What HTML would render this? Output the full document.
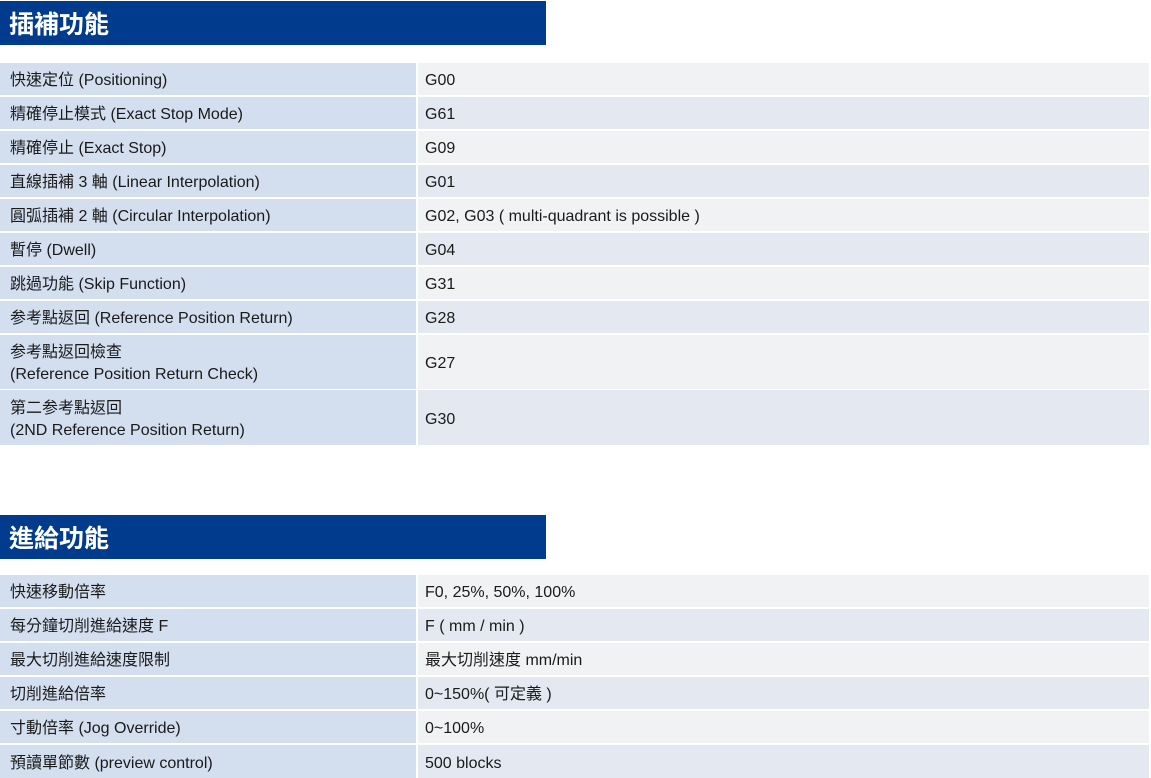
<!DOCTYPE html>
<html><head><meta charset="utf-8"><style>
body{margin:0;width:1151px;height:777px;background:#fff;overflow:hidden;position:relative;font-family:"Liberation Sans","Noto Sans CJK TC",sans-serif;color:#1a1a1a}
.h{position:absolute;left:0;width:546px;height:44px;background:#003b8e;color:#fff;font-size:25px;font-weight:bold;line-height:44px;padding-left:9px;box-sizing:border-box;font-family:"Noto Sans CJK TC",sans-serif}
.r{position:absolute;left:0;width:1149px;display:flex;font-size:16px;line-height:22px}
.l{width:416px;background:#d3deef;padding-left:10px;padding-top:4px;box-sizing:border-box;display:flex;align-items:center}
.v{flex:1;margin-left:2px;padding-left:7px;padding-top:4px;box-sizing:border-box;display:flex;align-items:center;background:#f1f2f4}
.l span,.v span{display:block;line-height:22px}
.d .v{background:#e3e8f1}
</style></head><body>
<div class="h" style="top:1px">插補功能</div>
<div class="r" style="top:63px;height:32px"><div class="l"><span>快速定位 (Positioning)</span></div><div class="v"><span>G00</span></div></div>
<div class="r d" style="top:97px;height:32px"><div class="l"><span>精確停止模式 (Exact Stop Mode)</span></div><div class="v"><span>G61</span></div></div>
<div class="r" style="top:131px;height:32px"><div class="l"><span>精確停止 (Exact Stop)</span></div><div class="v"><span>G09</span></div></div>
<div class="r d" style="top:165px;height:32px"><div class="l"><span>直線插補 3 軸 (Linear Interpolation)</span></div><div class="v"><span>G01</span></div></div>
<div class="r" style="top:199px;height:32px"><div class="l"><span>圓弧插補 2 軸 (Circular Interpolation)</span></div><div class="v"><span>G02, G03 ( multi-quadrant is possible )</span></div></div>
<div class="r d" style="top:233px;height:32px"><div class="l"><span>暫停 (Dwell)</span></div><div class="v"><span>G04</span></div></div>
<div class="r" style="top:267px;height:32px"><div class="l"><span>跳過功能 (Skip Function)</span></div><div class="v"><span>G31</span></div></div>
<div class="r d" style="top:301px;height:32px"><div class="l"><span>参考點返回 (Reference Position Return)</span></div><div class="v"><span>G28</span></div></div>
<div class="r" style="top:335px;height:54px"><div class="l"><span>参考點返回檢查<br>(Reference Position Return Check)</span></div><div class="v"><span>G27</span></div></div>
<div class="r d" style="top:390px;height:55px"><div class="l"><span>第二参考點返回<br>(2ND Reference Position Return)</span></div><div class="v"><span>G30</span></div></div>
<div class="h" style="top:515px">進給功能</div>
<div class="r" style="top:575px;height:32px"><div class="l"><span>快速移動倍率</span></div><div class="v"><span>F0, 25%, 50%, 100%</span></div></div>
<div class="r d" style="top:609px;height:32px"><div class="l"><span>每分鐘切削進給速度 F</span></div><div class="v"><span>F ( mm / min )</span></div></div>
<div class="r" style="top:643px;height:32px"><div class="l"><span>最大切削進給速度限制</span></div><div class="v"><span>最大切削速度 mm/min</span></div></div>
<div class="r d" style="top:677px;height:32px"><div class="l"><span>切削進給倍率</span></div><div class="v"><span>0~150%( 可定義 )</span></div></div>
<div class="r" style="top:711px;height:32px"><div class="l"><span>寸動倍率 (Jog Override)</span></div><div class="v"><span>0~100%</span></div></div>
<div class="r d" style="top:745px;height:33px"><div class="l"><span>預讀單節數 (preview control)</span></div><div class="v"><span>500 blocks</span></div></div>
</body></html>
